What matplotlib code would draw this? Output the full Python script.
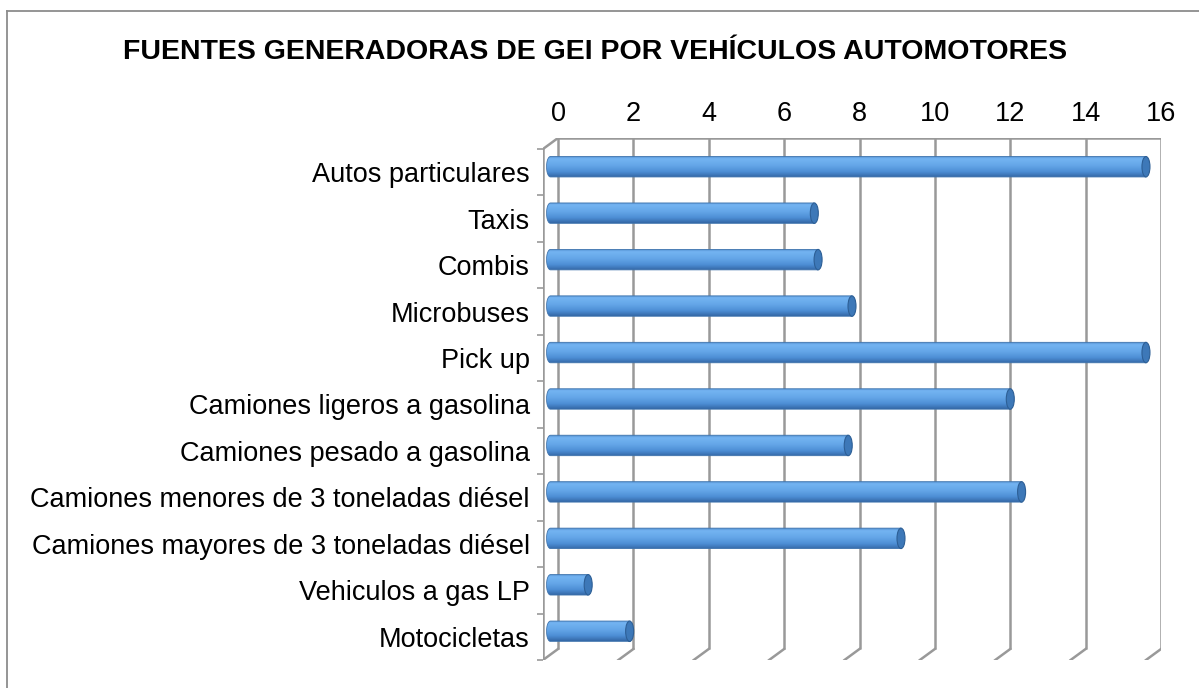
import numpy as np
import matplotlib
matplotlib.use('Agg')
from matplotlib import pyplot as plt
from matplotlib.path import Path
from matplotlib.patches import PathPatch, Ellipse
from matplotlib.colors import to_rgb

plt.rcParams['font.family'] = ['Liberation Sans', 'DejaVu Sans']

titulo = 'FUENTES GENERADORAS DE GEI POR VEHÍCULOS AUTOMOTORES'
categorias = ['Autos particulares', 'Taxis', 'Combis', 'Microbuses', 'Pick up',
              'Camiones ligeros a gasolina', 'Camiones pesado a gasolina',
              'Camiones menores de 3 toneladas diésel',
              'Camiones mayores de 3 toneladas diésel',
              'Vehiculos a gas LP', 'Motocicletas']
valores = [15.8, 7.0, 7.1, 8.0, 15.8, 12.2, 7.9, 12.5, 9.3, 1.0, 2.1]
ticks_x = [0, 2, 4, 6, 8, 10, 12, 14, 16]

W, H = 1199, 688
fig = plt.figure(figsize=(W / 100, H / 100), dpi=100)

# caja del area de trazado en pixeles
px_left, px_right, px_top, px_bot = 543, 1161, 138, 660
ax = fig.add_axes([px_left / W, 1 - px_bot / H,
                   (px_right - px_left) / W, (px_bot - px_top) / H])

n = len(categorias)
ppu = (1161 - 558) / 16.0       # pixeles por unidad en el plano del fondo
dx = 15 / ppu                   # profundidad en x (unidades)
band = (660 - 149) / n
dy = 11 / band                  # profundidad en y (bandas)
xmin, xmax = -dx, 16
ymin, ymax = n, -dy
gris = '#999999'

# pared del fondo: lineas verticales de la cuadricula
for t in ticks_x:
    ax.plot([t, t], [-dy, n - dy], color=gris, lw=1.8, solid_capstyle='butt')
    # piso, lineas inclinadas
    ax.plot([t, t - dx], [n - dy, n], color=gris, lw=1.8)
ax.plot([0, 16], [-dy, -dy], color=gris, lw=1.8)
# pared lateral
ax.plot([-dx, 0], [0, -dy], color=gris, lw=1.8)
ax.plot([-dx, -dx], [0, n], color=gris, lw=1.8)

# barras cilindricas
pos = [0, 0.12, 0.45, 0.75, 1.0]
cols = ['#4f8dcf', '#74b4f2', '#64a6e8', '#4d8ed5', '#3468a6']
prof = np.linspace(0, 1, 64)
grad = np.array([np.interp(prof, pos, [to_rgb(c)[i] for c in cols]) for i in range(3)]).T
grad = grad[:, None, :]

a = 4 / ppu        # semi-ancho de la elipse
b = 0.22           # semi-alto (en bandas)
for k, v in enumerate(valores):
    yc = k + 0.5 - dy / 2
    x0 = -dx / 2
    x1 = x0 + v
    t = np.linspace(-np.pi / 2, np.pi / 2, 40)
    xs = np.concatenate([x0 - a * np.cos(t), [x1, x1]])
    ys = np.concatenate([yc + b * np.sin(t), [yc + b, yc - b]])
    verts = np.column_stack([xs, ys])
    verts = np.vstack([verts, verts[:1]])
    codes = [Path.MOVETO] + [Path.LINETO] * (len(verts) - 2) + [Path.CLOSEPOLY]
    silueta = PathPatch(Path(verts, codes), facecolor='none', edgecolor='#3f74ad',
                        lw=0.6, zorder=4)
    ax.add_patch(silueta)
    im = ax.imshow(grad, extent=(x0 - a, x1, yc + b, yc - b), aspect='auto',
                   origin='upper', zorder=3, interpolation='bilinear')
    im.set_clip_path(silueta)
    ax.add_patch(Ellipse((x1, yc), 2 * a, 2 * b, facecolor='#3d78b8',
                         edgecolor='#2d5f96', lw=0.8, zorder=5))

ax.set_xlim(xmin, xmax)
ax.set_ylim(ymin, ymax)
for s in ax.spines.values():
    s.set_visible(False)

ax.set_xticks(ticks_x)
ax.set_xticklabels([str(t) for t in ticks_x])
ax.tick_params(axis='x', top=True, labeltop=True, bottom=False, labelbottom=False,
               length=0, pad=8, labelsize=19.5)
ax.set_yticks([k + 0.5 for k in range(n)])
ax.set_yticklabels(categorias)
ax.set_yticks(range(n + 1), minor=True)
ax.tick_params(axis='y', which='major', length=0, pad=9.5, labelsize=19.5)
ax.tick_params(axis='y', which='minor', length=4.5, width=1.2, color=gris)
ax.patch.set_alpha(0)

fig.text(595 / W, 1 - 52 / H, titulo, ha='center', va='center',
         fontsize=20.5, fontweight='bold')

# marco exterior
fig.add_artist(plt.Line2D([7 / W, 1], [1 - 11 / H, 1 - 11 / H], color='#8c8c8c', lw=1.3))
fig.add_artist(plt.Line2D([7 / W, 7 / W], [0, 1 - 11 / H], color='#8c8c8c', lw=1.3))

fig.savefig('out.png', dpi=100)
